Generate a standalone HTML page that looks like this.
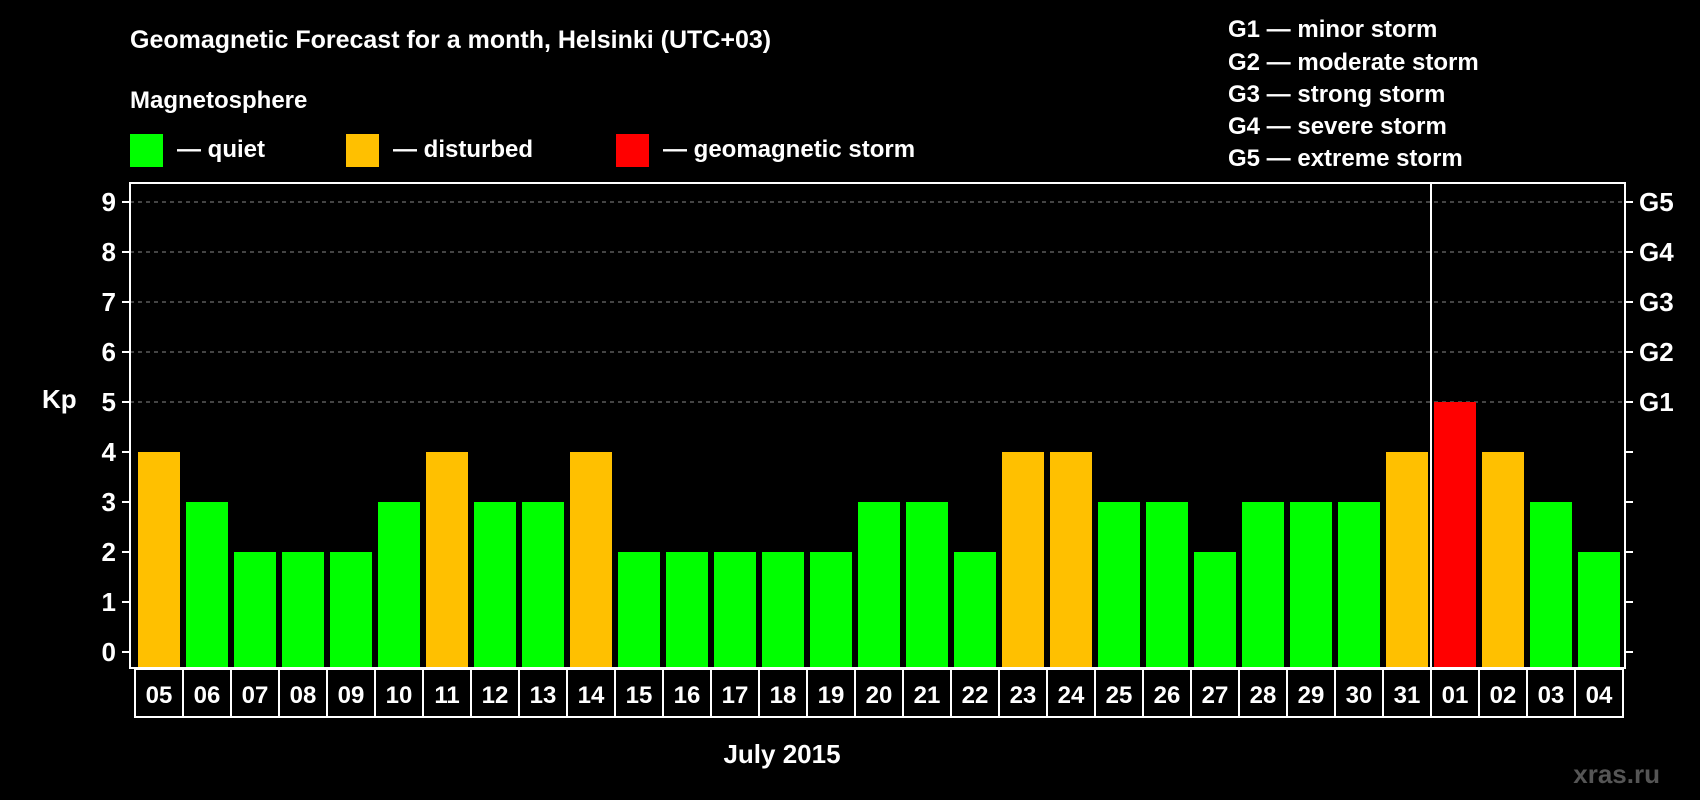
<!DOCTYPE html>
<html><head><meta charset="utf-8"><style>
body{margin:0;background:#000;width:1700px;height:800px;overflow:hidden}
svg{display:block;font-family:"Liberation Sans",sans-serif;font-weight:bold}
</style></head><body>
<svg id="c" width="1700" height="800">
<text x="130" y="48" fill="#fff" font-size="25">Geomagnetic Forecast for a month, Helsinki (UTC+03)</text>
<text x="130" y="108" fill="#fff" font-size="24">Magnetosphere</text>
<rect x="130" y="134" width="33" height="33" fill="#00ff00"/>
<text x="177" y="157" fill="#fff" font-size="24">— quiet</text>
<rect x="346" y="134" width="33" height="33" fill="#ffc000"/>
<text x="393" y="157" fill="#fff" font-size="24">— disturbed</text>
<rect x="616" y="134" width="33" height="33" fill="#ff0000"/>
<text x="663" y="157" fill="#fff" font-size="24">— geomagnetic storm</text>
<g fill="#fff" font-size="24">
<text x="1228" y="37">G1 — minor storm</text>
<text x="1228" y="70">G2 — moderate storm</text>
<text x="1228" y="102">G3 — strong storm</text>
<text x="1228" y="134">G4 — severe storm</text>
<text x="1228" y="166">G5 — extreme storm</text>
</g>
<text x="42" y="408" fill="#fff" font-size="26">Kp</text>
<text x="782" y="763" fill="#fff" font-size="26" text-anchor="middle">July 2015</text>
<text x="1660" y="783" fill="#555" font-size="26" text-anchor="end">xras.ru</text>
<g id="plot"></g>
</svg>
<script>
const days=["05","06","07","08","09","10","11","12","13","14","15","16","17","18","19","20","21","22","23","24","25","26","27","28","29","30","31","01","02","03","04"];
const kp=[4,3,2,2,2,3,4,3,3,4,2,2,2,2,2,3,3,2,4,4,3,3,2,3,3,3,4,5,4,3,2];
const yTicks=[0,1,2,3,4,5,6,7,8,9];
const gLabels=["G1","G2","G3","G4","G5"];
const NS="http://www.w3.org/2000/svg";
const g=document.getElementById('plot');
const L=130,R=1625,T=183,B=668,x0=135,step=48;
const y=v=>652-v*50;
const xc=i=>x0+step*i+step/2;
function mk(t,a){const e=document.createElementNS(NS,t);for(const k in a)e.setAttribute(k,a[k]);g.appendChild(e);return e;}
yTicks.forEach(v=>{
  if(v>=5){const l=mk('line',{x1:L,x2:R,y1:y(v),y2:y(v),stroke:'#888','stroke-width':1,'stroke-dasharray':'4,4'});
  
  }
  const t=mk('line',{x1:L-8,x2:L,y1:y(v),y2:y(v),stroke:'#fff','stroke-width':2});
  
  
  const t2=mk('line',{x1:R,x2:R+8,y1:y(v),y2:y(v),stroke:'#fff','stroke-width':2});
  
  
  const tx=mk('text',{x:L-14,y:y(v)+9,fill:'#fff','font-size':26,'text-anchor':'end'});
  tx.textContent=v;
  
  
});
gLabels.forEach((s,i)=>{
  const tx=mk('text',{x:R+14,y:y(5+i)+9,fill:'#fff','font-size':26});
  tx.textContent=s;
  
  
});
kp.forEach((v,i)=>{
  const col=v>=5?'#ff0000':v>=4?'#ffc000':'#00ff00';
  const b=mk('rect',{x:xc(i)-21,y:y(v),width:42,height:B-y(v),fill:col});
  
  
  const bx=mk('rect',{x:x0+step*i,y:B+1,width:step,height:48,fill:'none',stroke:'#fff','stroke-width':2});
  
  
  const tx=mk('text',{x:xc(i),y:B+35,fill:'#fff','font-size':24,'text-anchor':'middle'});
  tx.textContent=days[i];
  
  
});
const fr=mk('rect',{x:L,y:T,width:R-L,height:B-T,fill:'none',stroke:'#fff','stroke-width':2});


const sep=mk('line',{x1:xc(27)-step/2,x2:xc(27)-step/2,y1:T,y2:B,stroke:'#fff','stroke-width':2});


</script>
</body></html>
